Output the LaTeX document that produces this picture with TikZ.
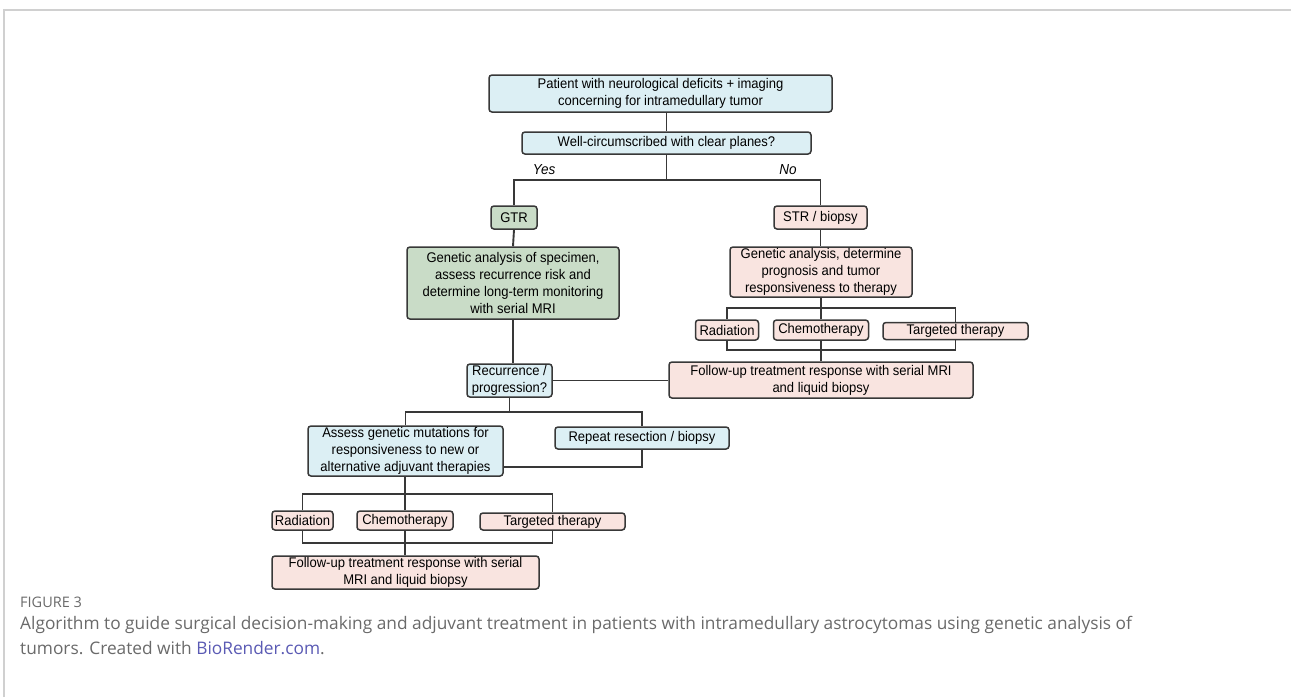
\documentclass[tikz,border=0pt]{standalone}
\usepackage{fontspec}
\setmainfont[FakeStretch=0.93]{Liberation Sans}
\newfontfamily\capfont{Open Sans}
\definecolor{linec}{HTML}{383838}
\definecolor{blueF}{HTML}{DCEFF4}
\definecolor{greenF}{HTML}{C9DCC7}
\definecolor{pinkF}{HTML}{F9E4E0}
\definecolor{capgray}{HTML}{6A6A6A}
\definecolor{caplink}{HTML}{5A5AB4}
\definecolor{framec}{HTML}{D0D0D0}
\begin{document}
\begin{tikzpicture}[x=1pt,y=-1pt,
  bx/.style={draw=linec, line width=1.5pt, rounded corners=3pt, align=center,
    inner sep=0pt, font=\fontsize{14}{16.8}\selectfont, text=black},
  bluebox/.style={bx, fill=blueF},
  greenbox/.style={bx, fill=greenF},
  pinkbox/.style={bx, fill=pinkF},
  ln/.style={draw=linec, line width=1.9pt},
  lbl/.style={font=\fontsize{14.5}{16}\selectfont\itshape, inner sep=0pt},
  capstyle/.style={font=\capfont\fontsize{17.3}{20}\selectfont, text=capgray, inner sep=0pt, anchor=west}
]
\useasboundingbox (0,0) rectangle (1291,697);
\fill[white] (0,0) rectangle (1291,697);
\draw[framec, line width=1.2pt] (4,697) -- (4,10) -- (1291,10);

% top
\node[bluebox, minimum width=343pt, minimum height=37pt] (top) at (660.5,93.5)
  {Patient with neurological deficits + imaging\\concerning for intramedullary tumor};
\node[bluebox, minimum width=289pt, minimum height=22pt] (q) at (666.5,143)
  {Well-circumscribed with clear planes?};
\node[lbl] (yes) at (544,170) {Yes};
\node[lbl] (no) at (788,170) {No};

% left branch
\node[greenbox, minimum width=46pt, minimum height=23pt] (gtr) at (514,217.5) {GTR};
\node[greenbox, minimum width=212pt, minimum height=72pt] (genL) at (513,283)
  {Genetic analysis of specimen,\\assess recurrence risk and\\determine long-term monitoring\\with serial MRI};

% right branch
\node[pinkbox, minimum width=93pt, minimum height=23pt] (str) at (820.5,217.5) {STR / biopsy};
\node[pinkbox, minimum width=182pt, minimum height=50pt] (genR) at (821,272)
  {Genetic analysis, determine\\prognosis and tumor\\responsiveness to therapy};
\node[pinkbox, minimum width=63pt, minimum height=20pt] (radR) at (727,330) {Radiation};
\node[pinkbox, minimum width=95pt, minimum height=20pt] (chemoR) at (821,330) {Chemotherapy};
\node[pinkbox, minimum width=145pt, minimum height=17pt] (tgtR) at (955.5,331) {Targeted therapy};
\node[pinkbox, minimum width=304pt, minimum height=36pt] (followR) at (821,380)
  {Follow-up treatment response with serial MRI\\and liquid biopsy};

% recurrence
\node[bluebox, minimum width=85pt, minimum height=33pt] (rec) at (509.5,380.5)
  {Recurrence /\\progression?};
\node[bluebox, minimum width=195pt, minimum height=50pt] (assess) at (405.5,451)
  {Assess genetic mutations for\\responsiveness to new or\\alternative adjuvant therapies};
\node[bluebox, minimum width=174pt, minimum height=22pt] (repeat) at (642,438)
  {Repeat resection / biopsy};
\node[pinkbox, minimum width=61pt, minimum height=19pt] (radL) at (302.5,520.5) {Radiation};
\node[pinkbox, minimum width=96pt, minimum height=19pt] (chemoL) at (405,520.5) {Chemotherapy};
\node[pinkbox, minimum width=145pt, minimum height=17pt] (tgtL) at (552.5,521.5) {Targeted therapy};
\node[pinkbox, minimum width=267pt, minimum height=33pt] (followL) at (405.5,572.5)
  {Follow-up treatment response with serial\\MRI and liquid biopsy};

% connectors
\coordinate (b1) at (666.5,180);
\draw[ln] (top.south -| q.north) -- (q.north);
\draw[ln] (q.south) -- (b1);
\draw[ln] (gtr.north) |- (b1) -| (str.north);
\draw[ln] (gtr.south) -- (genL.north);
\draw[ln] (str.south) -- (str.south |- genR.north);

\coordinate (b2) at (821,308);
\coordinate (b2b) at (821,350);
\draw[ln] (genR.south) -- (b2);
\draw[ln] (radR.north) |- (b2) -| (tgtR.north);
\draw[ln] (chemoR.north) -- (b2);
\draw[ln] (radR.south) |- (b2b) -| (tgtR.south);
\draw[ln] (chemoR.south) -- (followR.north);

\draw[ln] (genL.south) -- (genL.south |- rec.north);
\draw[ln] (rec.east) -- (rec.east -| followR.west);

\coordinate (b3) at (509.5,412);
\draw[ln] (rec.south) -- (b3);
\draw[ln] (assess.north) |- (b3) -| (repeat.north);
\draw[ln] (repeat.south) |- ([yshift=-16pt]assess.east);

\coordinate (b4) at (405,494);
\coordinate (b4b) at (405,543);
\draw[ln] (assess.south -| chemoL.north) -- (b4);
\draw[ln] (radL.north) |- (b4) -| (tgtL.north);
\draw[ln] (chemoL.north) -- (b4);
\draw[ln] (radL.south) |- (b4b) -| (tgtL.south);
\draw[ln] (chemoL.south) -- (chemoL.south |- followL.north);

% caption
\node[capstyle, font=\capfont\fontsize{14.5}{16}\selectfont] (fig) at (20,602) {FIGURE 3};
\node[capstyle] (cap1) at (20,625) {Algorithm to guide surgical decision-making and adjuvant treatment in patients with intramedullary astrocytomas using genetic analysis of};
\node[capstyle] (cap2) at (20,648) {tumors. Created with \textcolor{caplink}{BioRender.com}.};
\end{tikzpicture}
\end{document}
